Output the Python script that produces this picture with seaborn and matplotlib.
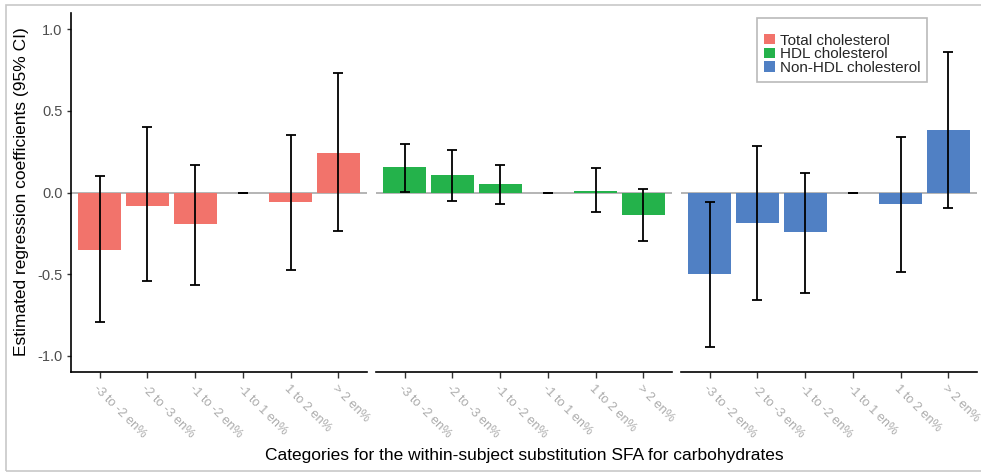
import matplotlib
matplotlib.use("Agg")
import matplotlib.pyplot as plt
from matplotlib.patches import Rectangle, Patch
import numpy as np
import pandas as pd
import seaborn as sns

# Categories of within-subject substitution of SFA for carbohydrates
categories = ["-3 to -2 en%", "-2 to -3 en%", "-1 to -2 en%", "-1 to 1 en%", "1 to 2 en%", "> 2 en%"]
outcomes = ["Total cholesterol", "HDL cholesterol", "Non-HDL cholesterol"]

# Estimated regression coefficients with 95% CI bounds
total_est = [-0.35, -0.08, -0.19, 0.00, -0.06, 0.245]
total_lo = [-0.795, -0.54, -0.567, 0.00, -0.477, -0.237]
total_hi = [0.10, 0.40, 0.17, 0.00, 0.355, 0.73]

hdl_est = [0.155, 0.107, 0.05, 0.00, 0.01, -0.135]
hdl_lo = [0.005, -0.05, -0.07, 0.00, -0.12, -0.30]
hdl_hi = [0.30, 0.26, 0.17, 0.00, 0.15, 0.02]

nonhdl_est = [-0.50, -0.186, -0.245, 0.00, -0.07, 0.38]
nonhdl_lo = [-0.947, -0.66, -0.613, 0.00, -0.487, -0.098]
nonhdl_hi = [-0.06, 0.285, 0.12, 0.00, 0.34, 0.863]

colors = ["#F2736B", "#24B24B", "#5080C4"]

frames = []
for name, est, lo, hi in [
    (outcomes[0], total_est, total_lo, total_hi),
    (outcomes[1], hdl_est, hdl_lo, hdl_hi),
    (outcomes[2], nonhdl_est, nonhdl_lo, nonhdl_hi),
]:
    frames.append(pd.DataFrame({"outcome": name, "category": categories,
                                "estimate": est, "lower": lo, "upper": hi}))
df = pd.concat(frames, ignore_index=True)

sns.set_style("white")
plt.rcParams["font.family"] = ["Liberation Sans", "DejaVu Sans"]

W, H = 981, 473
fig = plt.figure(figsize=(W / 100, H / 100), dpi=100)

panel_px = [(71, 367), (376, 672), (681, 977)]
top_px, bottom_px = 13, 372
axes = []
for i, (x0, x1) in enumerate(panel_px):
    ax = fig.add_axes([x0 / W, 1 - bottom_px / H, (x1 - x0) / W, (bottom_px - top_px) / H])
    axes.append(ax)
    sub = df[df["outcome"] == outcomes[i]]
    ax.axhline(0, color="#A8A8A8", lw=1.2, zorder=0)
    sns.barplot(data=sub, x="category", y="estimate", order=categories,
                color=colors[i], saturation=1, width=0.9, errorbar=None,
                linewidth=0, ax=ax, zorder=2)
    xpos = np.arange(len(categories))
    est = sub["estimate"].to_numpy()
    yerr = np.vstack([est - sub["lower"].to_numpy(), sub["upper"].to_numpy() - est])
    ax.errorbar(xpos, est, yerr=yerr, fmt="none", ecolor="black", elinewidth=1.3,
                capsize=3.3, capthick=1.3, zorder=3)
    ax.set_xlim(-0.6, len(categories) - 0.4)
    ax.set_ylim(-1.1, 1.1)
    ax.set_xlabel("")
    ax.set_ylabel("")
    ax.set_xticks(xpos)
    ax.set_xticklabels(categories, rotation=-45, ha="left", va="top",
                       rotation_mode="anchor", color="#ABABAB", fontsize=9.2)
    ax.tick_params(axis="x", length=4, width=1, color="#333333", pad=4, bottom=True)
    for s in ["top", "right"]:
        ax.spines[s].set_visible(False)
    ax.spines["bottom"].set_color("black")
    ax.spines["bottom"].set_linewidth(1.2)
    if i == 0:
        ax.spines["left"].set_color("black")
        ax.spines["left"].set_linewidth(1.2)
        ax.set_yticks([-1.0, -0.5, 0.0, 0.5, 1.0])
        ax.set_yticklabels(["-1.0", "-0.5", "0.0", "0.5", "1.0"], color="#4D4D4D", fontsize=10.5)
        ax.tick_params(axis="y", length=3, width=1, color="#333333", left=True, pad=3)
    else:
        ax.spines["left"].set_visible(False)
        ax.set_yticks([])
    ax.patch.set_alpha(0)

handles = [Patch(facecolor=c, edgecolor="none") for c in colors]
leg = axes[2].legend(handles, outcomes, title=" ", loc="upper right",
                     bbox_to_anchor=((927 - 681) / 296, 1 - (18 - 13) / 359),
                     fontsize=11, title_fontsize=6.5, frameon=True, fancybox=False,
                     edgecolor="#A8A8A8", handlelength=0.7, handleheight=0.65,
                     handletextpad=0.3, labelspacing=-0.02, borderpad=0.45,
                     borderaxespad=0)
leg.get_frame().set_linewidth(1.2)

fig.text(22 / W, 1 - 192 / H, "Estimated regression coefficients (95% CI)",
         rotation=90, ha="center", va="center", fontsize=12.5, color="black")
fig.text(524 / W, 1 - 455 / H,
         "Categories for the within-subject substitution SFA for carbohydrates",
         ha="center", va="center", fontsize=12.5, color="black")

# light frame around the figure
fig.add_artist(Rectangle((6 / W, 1 - 471 / H), 1.0, (471 - 5) / H, transform=fig.transFigure,
                         fill=False, edgecolor="#C8C8C8", lw=1.2, clip_on=False))

fig.savefig("out.png", dpi=100)
